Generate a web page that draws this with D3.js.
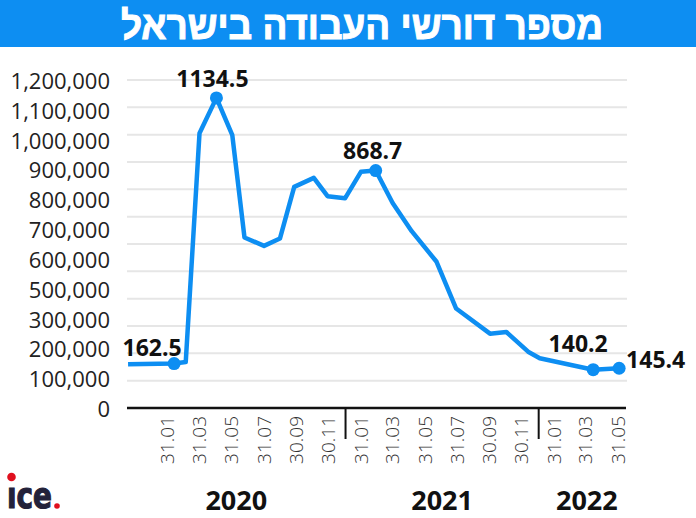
<!DOCTYPE html>
<html>
<head>
<meta charset="utf-8">
<script src="https://cdn.jsdelivr.net/npm/d3@7"></script>
<style>
  body { margin: 0; background: #fff; }
</style>
</head>
<body>
<script>
// data (job seekers, thousands)
const title = 'מספר דורשי העבודה בישראל';
const dates = ['2019-11-17', '2020-02-12', '2020-03-05', '2020-03-31', '2020-05-02', '2020-06-01',
  '2020-06-24', '2020-07-31', '2020-08-30', '2020-09-26', '2020-11-02', '2020-11-28', '2020-12-31',
  '2021-01-30', '2021-02-27', '2021-03-31', '2021-05-06', '2021-06-22', '2021-07-29', '2021-10-01',
  '2021-11-01', '2021-12-12', '2022-01-03', '2022-04-14', '2022-06-02'];
const values = [160, 162.5, 168, 1005, 1134.5, 998, 624, 593, 620, 809, 842, 775, 767,
  864, 868.7, 750, 647, 535, 364, 272, 278, 206, 182, 140.2, 145.4];
const markedDates = ['2020-02-12', '2020-05-02', '2021-02-27', '2022-04-14', '2022-06-02'];
const yTickLabels = ['0', '100,000', '200,000', '300,000', '500,000', '600,000', '700,000',
  '800,000', '900,000', '1,000,000', '1,100,000', '1,200,000'];
const xTickDates = ['2020-01-31', '2020-03-31', '2020-05-31', '2020-07-31', '2020-09-30', '2020-11-30',
  '2021-01-31', '2021-03-31', '2021-05-31', '2021-07-31', '2021-09-30', '2021-11-30',
  '2022-01-31', '2022-03-31', '2022-05-31'];
const xTickLabels = ['31.01', '31.03', '31.05', '31.07', '30.09', '30.11',
  '31.01', '31.03', '31.05', '31.07', '30.09', '30.11',
  '31.01', '31.03', '31.05'];
const years = ['2020', '2021', '2022'];

const width = 696;
const height = 518;
const plotLeft = 127;
const plotRight = 626;
const plotBottom = 408;
const plotTop = 80;
const blue = '#0d8ef2';
const parse = d3.timeParse('%Y-%m-%d');

const points = dates.map((d, i) => ({ date: parse(d), value: values[i], key: d }));

const svg = d3.select('body')
  .append('svg')
  .attr('width', width)
  .attr('height', height)
  .style('display', 'block')
  .style('font-family', "'Open Sans', sans-serif");

// Title bar
svg.append('rect')
  .attr('width', width)
  .attr('height', 47)
  .attr('fill', blue);

svg.append('text')
  .attr('x', 362)
  .attr('y', 25)
  .attr('dominant-baseline', 'central')
  .attr('text-anchor', 'middle')
  .attr('textLength', 482)
  .attr('lengthAdjust', 'spacingAndGlyphs')
  .style('font-family', "'Liberation Sans', sans-serif")
  .style('font-weight', 700)
  .style('font-size', '39px')
  .style('fill', '#fff')
  .style('stroke', '#fff')
  .style('stroke-width', 1)
  .text(title);

const x = d3.scaleTime()
  .domain([new Date(2019, 10, 15), new Date(2022, 5, 15)])
  .range([plotLeft, plotRight]);

const y = d3.scaleLinear()
  .domain([0, 1200])
  .range([plotBottom, plotTop]);

// the printed labels do not line up with the gridlines in the original
const yLabel = d3.scalePoint()
  .domain(yTickLabels)
  .range([plotBottom, plotTop]);

// Gridlines
svg.append('g')
  .selectAll('line')
  .data(y.ticks(12).filter(d => d > 0))
  .enter()
  .append('line')
  .attr('x1', plotLeft)
  .attr('x2', plotRight + 1)
  .attr('y1', d => y(d))
  .attr('y2', d => y(d))
  .style('stroke', '#e6e6e6')
  .style('stroke-width', 2);

// y labels
svg.append('g')
  .selectAll('text')
  .data(yTickLabels)
  .enter()
  .append('text')
  .attr('x', 110)
  .attr('y', d => yLabel(d))
  .attr('dominant-baseline', 'central')
  .attr('text-anchor', 'end')
  .style('font-size', '22px')
  .style('fill', '#222')
  .text(d => d);

// x axis line
svg.append('line')
  .attr('x1', plotLeft)
  .attr('x2', plotRight)
  .attr('y1', plotBottom)
  .attr('y2', plotBottom)
  .style('stroke', '#111')
  .style('stroke-width', 2.5);

// year dividers
svg.append('g')
  .selectAll('line')
  .data(years.slice(1))
  .enter()
  .append('line')
  .attr('x1', d => x(new Date(+d, 0, 1)))
  .attr('x2', d => x(new Date(+d, 0, 1)))
  .attr('y1', plotBottom)
  .attr('y2', 439)
  .style('stroke', '#111')
  .style('stroke-width', 2);

// x tick labels
svg.append('g')
  .selectAll('text')
  .data(xTickDates)
  .enter()
  .append('text')
  .attr('transform', d => `translate(${x(parse(d))}, 416) rotate(-90)`)
  .attr('dy', '0.35em')
  .attr('text-anchor', 'end')
  .style('font-size', '19px')
  .style('font-weight', 300)
  .style('fill', '#333')
  .text((d, i) => xTickLabels[i]);

// year labels, centred on the stretch of axis each year covers
const labelRight = plotRight + 9;
svg.append('g')
  .selectAll('text')
  .data(years)
  .enter()
  .append('text')
  .attr('x', (d, i) => {
    const a = i === 0 ? plotLeft : x(new Date(+d, 0, 1));
    const b = Math.min(x(new Date(+d + 1, 0, 1)), labelRight);
    return (a + b) / 2;
  })
  .attr('y', 509.5)
  .attr('text-anchor', 'middle')
  .style('font-size', '27px')
  .style('font-weight', 700)
  .style('fill', '#111')
  .text(d => d);

// Line
const line = d3.line()
  .x(d => x(d.date))
  .y(d => y(d.value));

svg.append('path')
  .datum(points)
  .attr('d', line)
  .style('fill', 'none')
  .style('stroke', blue)
  .style('stroke-width', 4.5)
  .style('stroke-linejoin', 'round');

// Marked points
const marked = points.filter(d => markedDates.includes(d.key));
const labelPos = [
  { anchor: 'middle', dx: -22, dy: -17 },
  { anchor: 'middle', dx: -4, dy: -20 },
  { anchor: 'middle', dx: -3, dy: -21 },
  { anchor: 'middle', dx: -15, dy: -27 },
  { anchor: 'start', dx: 7, dy: -9 }
];

svg.append('g')
  .selectAll('circle')
  .data(marked)
  .enter()
  .append('circle')
  .attr('cx', d => x(d.date))
  .attr('cy', d => y(d.value))
  .attr('r', 6.5)
  .style('fill', blue);

svg.append('g')
  .selectAll('text')
  .data(marked)
  .enter()
  .append('text')
  .attr('x', (d, i) => x(d.date) + labelPos[i].dx)
  .attr('y', (d, i) => y(d.value) + labelPos[i].dy)
  .attr('dominant-baseline', 'central')
  .attr('text-anchor', (d, i) => labelPos[i].anchor)
  .style('font-size', '23px')
  .style('font-weight', 700)
  .style('fill', '#111')
  .text(d => d.value.toFixed(1));

// Logo
const logo = svg.append('g');
logo.append('text')
  .attr('x', 7)
  .attr('y', 508)
  .attr('textLength', 45)
  .attr('lengthAdjust', 'spacingAndGlyphs')
  .style('font-family', "'DejaVu Sans', sans-serif")
  .style('font-weight', 700)
  .style('font-size', '36px')
  .style('fill', '#23223a')
  .style('stroke', '#23223a')
  .style('stroke-width', 1.2)
  .text('ıce');
logo.append('circle')
  .attr('cx', 11.5)
  .attr('cy', 477)
  .attr('r', 4.3)
  .style('fill', '#e0101e');
logo.append('circle')
  .attr('cx', 57)
  .attr('cy', 506)
  .attr('r', 2.8)
  .style('fill', '#e0101e');
</script>
</body>
</html>
